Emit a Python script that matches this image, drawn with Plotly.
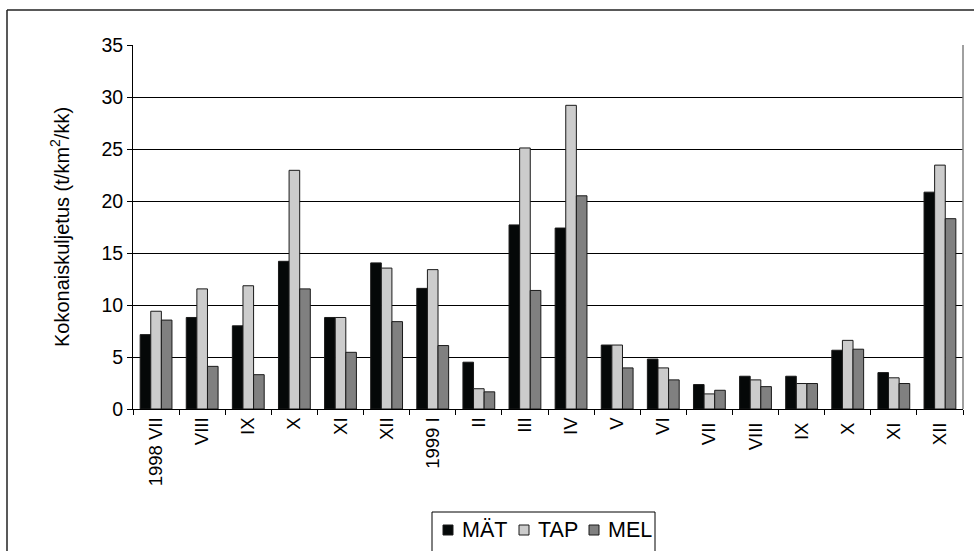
import plotly.graph_objects as go

categories = ["1998 VII", "VIII", "IX", "X", "XI", "XII", "1999 I", "II", "III", "IV",
              "V", "VI", "VII ", "VIII ", "IX ", "X ", "XI ", "XII "]
mat = [7.15, 8.8, 8.0, 14.2, 8.8, 14.05, 11.6, 4.5, 17.7, 17.4, 6.15, 4.8, 2.35, 3.15, 3.15, 5.65, 3.5, 20.85]
tap = [9.4, 11.55, 11.85, 22.95, 8.8, 13.55, 13.4, 1.95, 25.1, 29.2, 6.15, 3.95, 1.45, 2.8, 2.45, 6.6, 3.0, 23.45]
mel = [8.55, 4.1, 3.3, 11.55, 5.45, 8.4, 6.1, 1.65, 11.4, 20.5, 3.95, 2.8, 1.8, 2.15, 2.45, 5.75, 2.45, 18.3]

series_names = ["MÄT", "TAP", "MEL"]
series_colors = ["#050808", "#cccccc", "#808080"]
series_values = [mat, tap, mel]

font = "Liberation Sans, Arial, sans-serif"
FW, FH = 974, 551
L, R, T, B = 133, 11, 45, 142
W, H = FW - L - R, FH - T - B

def px2x(px):
    return (px - L) / W

def py2y(py):
    return (FH - B - py) / H

fig = go.Figure()
for name, vals, col in zip(series_names, series_values, series_colors):
    fig.add_trace(go.Bar(x=categories, y=vals, name=name, showlegend=False,
                         marker=dict(color=col, line=dict(color="#1a1a1a", width=1))))

# legend drawn as a box with key squares and labels (layout positions in pixels)
leg_box = (432, 512, 655)          # left, top, right
leg_keys_x = [443, 519, 589]       # left edge of each key square
leg_mid_y = 530
key = 10
shapes = [
    dict(type="line", xref="paper", yref="paper", x0=px2x(7), x1=px2x(FW),
         y0=py2y(10), y1=py2y(10), line=dict(color="#222222", width=1.5), layer="below"),
    dict(type="line", xref="paper", yref="paper", x0=px2x(7), x1=px2x(7),
         y0=py2y(FH), y1=py2y(10), line=dict(color="#222222", width=1.5), layer="below"),
    dict(type="line", xref="paper", yref="paper", x0=1, x1=1, y0=0, y1=1,
         line=dict(color="#808080", width=1.5)),
    dict(type="rect", xref="paper", yref="paper", x0=px2x(leg_box[0]), x1=px2x(leg_box[2]),
         y0=py2y(FH + 20), y1=py2y(leg_box[1]), line=dict(color="black", width=1),
         fillcolor="white"),
]
annotations = []
for name, col, kx in zip(series_names, series_colors, leg_keys_x):
    shapes.append(dict(type="rect", xref="paper", yref="paper",
                       x0=px2x(kx), x1=px2x(kx + key),
                       y0=py2y(leg_mid_y + key / 2), y1=py2y(leg_mid_y - key / 2),
                       line=dict(color="#1a1a1a", width=1), fillcolor=col))
    annotations.append(dict(xref="paper", yref="paper", x=px2x(kx + key + 7), y=py2y(leg_mid_y),
                            xanchor="left", yanchor="middle", showarrow=False, text=name,
                            font=dict(size=21.5, family=font, color="black")))

fig.update_layout(
    width=FW, height=FH,
    margin=dict(l=L, r=R, t=T, b=B, autoexpand=False),
    paper_bgcolor="white", plot_bgcolor="white",
    barmode="group", bargap=0.31, bargroupgap=0,
    font=dict(family=font, size=18, color="black"),
    showlegend=False,
    xaxis=dict(type="category", tickangle=-90, ticks="outside", tickson="boundaries",
               ticklen=5, tickcolor="black", showline=True, linecolor="black", linewidth=1,
               tickfont=dict(size=18.5), showgrid=False, automargin=False),
    yaxis=dict(range=[0, 35], dtick=5, ticks="outside", ticklen=5, tickcolor="black",
               showline=True, linecolor="black", linewidth=1, showgrid=True,
               gridcolor="black", gridwidth=1, tickfont=dict(size=19.5), zeroline=False,
               automargin=False,
               title=dict(text="Kokonaiskuljetus (t/km<sup>2</sup>/kk)", font=dict(size=20),
                          standoff=26)),
    shapes=shapes,
    annotations=annotations,
)

fig.write_html("out.html")
